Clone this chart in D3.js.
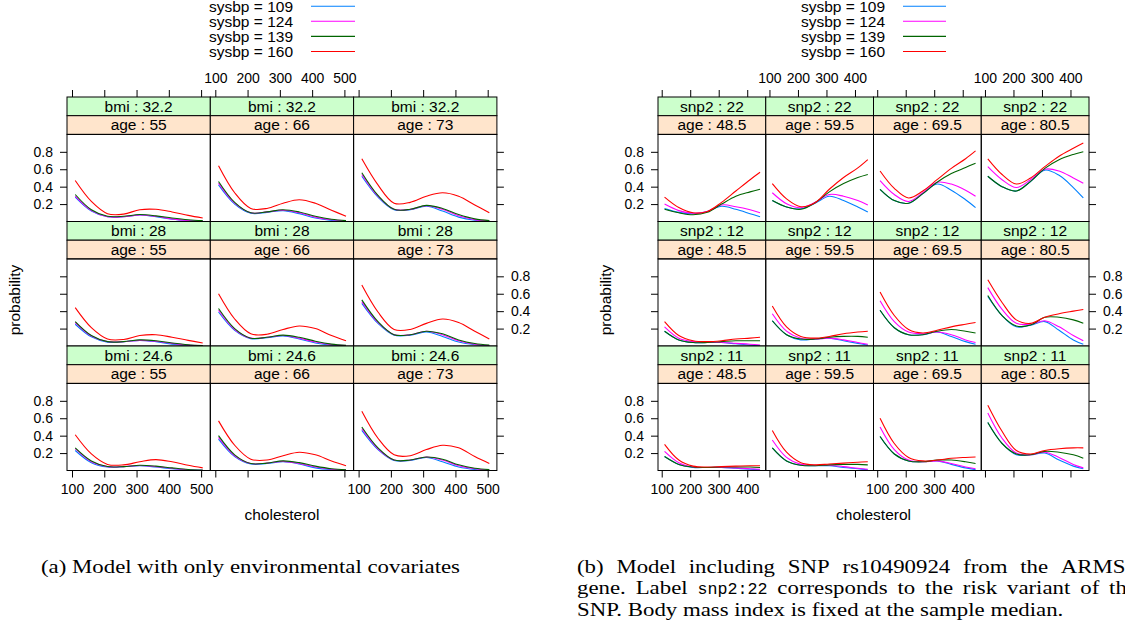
<!DOCTYPE html>
<html>
<head>
<meta charset="utf-8">
<script src="https://cdn.jsdelivr.net/npm/d3@7"></script>
<style>
  body { margin: 0; background: #fff; }
</style>
</head>
<body>
<div id="chart"></div>
<script>
// Levels and ticks
const sysbp = [109, 124, 139, 160];
const lineColors = ["#0080ff", "#ff00ff", "#006400", "#ff0000"];
const bmiA = [32.2, 28, 24.6];        // strip rows, top to bottom
const ageA = [55, 66, 73];
const snpB = [22, 12, 11];
const ageB = [48.5, 59.5, 69.5, 80.5];
const cholA = [110, 160, 210, 260, 310, 360, 410, 460, 505];
const cholB = [110, 160, 210, 260, 310, 360, 410, 445];
const xTicksA = [100, 200, 300, 400, 500];
const xTicksB = [100, 200, 300, 400];
const yTicks = [0.2, 0.4, 0.6, 0.8];

// (a) probabilities, each panel: sysbp 109, 124, 139, 160
const probA_bmi32 = [
  [[0.28,0.12,0.055,0.055,0.075,0.055,0.025,0.01,0.004],
   [0.29,0.125,0.055,0.055,0.075,0.06,0.03,0.012,0.005],
   [0.31,0.135,0.06,0.06,0.08,0.065,0.04,0.02,0.01],
   [0.47,0.23,0.09,0.085,0.135,0.14,0.11,0.07,0.04]],
  [[0.42,0.20,0.095,0.105,0.125,0.09,0.04,0.013,0.004],
   [0.44,0.21,0.10,0.11,0.13,0.10,0.05,0.02,0.007],
   [0.46,0.22,0.10,0.11,0.135,0.11,0.06,0.025,0.01],
   [0.64,0.33,0.15,0.15,0.21,0.25,0.21,0.13,0.06]],
  [[0.52,0.28,0.135,0.135,0.175,0.12,0.05,0.015,0.004],
   [0.54,0.29,0.14,0.14,0.18,0.14,0.065,0.022,0.007],
   [0.56,0.30,0.14,0.14,0.185,0.15,0.08,0.03,0.01],
   [0.72,0.42,0.21,0.22,0.29,0.33,0.29,0.19,0.10]]
];
const probA_bmi28 = [
  [[0.25,0.105,0.045,0.05,0.065,0.05,0.022,0.008,0.003],
   [0.27,0.115,0.05,0.05,0.065,0.055,0.03,0.01,0.004],
   [0.28,0.12,0.05,0.05,0.07,0.06,0.035,0.015,0.006],
   [0.44,0.21,0.08,0.075,0.12,0.13,0.10,0.065,0.035]],
  [[0.39,0.18,0.085,0.095,0.115,0.08,0.035,0.01,0.003],
   [0.41,0.19,0.09,0.10,0.12,0.09,0.045,0.016,0.005],
   [0.43,0.20,0.09,0.10,0.125,0.10,0.055,0.022,0.008],
   [0.60,0.31,0.14,0.135,0.19,0.23,0.20,0.12,0.06]],
  [[0.49,0.26,0.125,0.125,0.16,0.11,0.045,0.014,0.004],
   [0.51,0.27,0.13,0.13,0.17,0.13,0.06,0.02,0.006],
   [0.53,0.28,0.13,0.13,0.17,0.14,0.07,0.028,0.01],
   [0.70,0.39,0.19,0.19,0.26,0.31,0.27,0.17,0.08]]
];
const probA_bmi24 = [
  [[0.23,0.09,0.04,0.043,0.055,0.04,0.02,0.007,0.002],
   [0.25,0.10,0.045,0.045,0.058,0.045,0.025,0.009,0.003],
   [0.26,0.11,0.045,0.045,0.06,0.05,0.03,0.012,0.005],
   [0.41,0.19,0.07,0.065,0.10,0.125,0.10,0.06,0.03]],
  [[0.36,0.16,0.075,0.08,0.10,0.075,0.03,0.01,0.003],
   [0.38,0.17,0.08,0.085,0.105,0.08,0.04,0.014,0.005],
   [0.40,0.18,0.08,0.085,0.11,0.09,0.05,0.02,0.008],
   [0.57,0.29,0.13,0.12,0.17,0.21,0.18,0.11,0.055]],
  [[0.46,0.24,0.115,0.115,0.15,0.10,0.04,0.012,0.004],
   [0.48,0.25,0.12,0.12,0.155,0.12,0.055,0.02,0.006],
   [0.50,0.26,0.12,0.12,0.155,0.13,0.065,0.025,0.01],
   [0.68,0.37,0.18,0.17,0.24,0.29,0.26,0.16,0.08]]
];

// (b) probabilities, each panel: sysbp 109, 124, 139, 160
const probB_snp22 = [
  [[0.15,0.105,0.088,0.115,0.175,0.14,0.09,0.054],
   [0.20,0.125,0.095,0.115,0.19,0.17,0.135,0.10],
   [0.14,0.10,0.078,0.105,0.20,0.29,0.34,0.37],
   [0.28,0.16,0.10,0.115,0.22,0.35,0.48,0.565]],
  [[0.24,0.166,0.146,0.21,0.29,0.24,0.166,0.108],
   [0.33,0.204,0.158,0.22,0.31,0.29,0.24,0.19],
   [0.24,0.166,0.14,0.215,0.34,0.435,0.505,0.54],
   [0.435,0.26,0.17,0.215,0.37,0.505,0.615,0.71]],
  [[0.37,0.24,0.21,0.32,0.43,0.36,0.25,0.16],
   [0.47,0.31,0.23,0.33,0.45,0.43,0.36,0.29],
   [0.37,0.24,0.21,0.32,0.45,0.55,0.62,0.67],
   [0.58,0.38,0.27,0.35,0.48,0.61,0.72,0.81]],
  [[0.52,0.40,0.35,0.46,0.59,0.53,0.39,0.27],
   [0.63,0.48,0.39,0.48,0.60,0.58,0.50,0.44],
   [0.52,0.40,0.35,0.46,0.61,0.71,0.77,0.80],
   [0.72,0.54,0.43,0.50,0.63,0.75,0.84,0.90]]
];
const probB_snp12 = [
  [[0.17,0.07,0.04,0.04,0.04,0.025,0.01,0.005],
   [0.22,0.09,0.05,0.04,0.04,0.03,0.02,0.01],
   [0.17,0.07,0.04,0.04,0.05,0.06,0.06,0.06],
   [0.28,0.12,0.06,0.05,0.06,0.08,0.09,0.10]],
  [[0.29,0.13,0.07,0.08,0.09,0.06,0.03,0.01],
   [0.37,0.17,0.09,0.08,0.09,0.07,0.04,0.02],
   [0.29,0.13,0.08,0.08,0.10,0.11,0.11,0.10],
   [0.46,0.22,0.11,0.09,0.11,0.14,0.16,0.17]],
  [[0.41,0.21,0.13,0.13,0.16,0.11,0.05,0.02],
   [0.52,0.28,0.16,0.14,0.16,0.13,0.07,0.04],
   [0.41,0.21,0.13,0.13,0.17,0.19,0.17,0.15],
   [0.62,0.35,0.19,0.15,0.18,0.22,0.25,0.27]],
  [[0.57,0.35,0.22,0.24,0.28,0.18,0.07,0.02],
   [0.67,0.42,0.26,0.25,0.29,0.22,0.12,0.06],
   [0.58,0.35,0.23,0.24,0.33,0.33,0.30,0.26],
   [0.76,0.50,0.30,0.26,0.33,0.37,0.40,0.42]]
];
const probB_snp11 = [
  [[0.16,0.07,0.035,0.035,0.035,0.025,0.015,0.008],
   [0.22,0.09,0.04,0.035,0.035,0.03,0.02,0.015],
   [0.16,0.07,0.04,0.035,0.04,0.04,0.04,0.035],
   [0.30,0.12,0.05,0.04,0.045,0.05,0.055,0.055]],
  [[0.26,0.11,0.06,0.055,0.055,0.035,0.02,0.008],
   [0.35,0.15,0.07,0.06,0.06,0.045,0.025,0.015],
   [0.26,0.11,0.06,0.055,0.065,0.07,0.07,0.065],
   [0.46,0.21,0.09,0.065,0.075,0.085,0.095,0.10]],
  [[0.39,0.19,0.11,0.10,0.11,0.07,0.03,0.01],
   [0.50,0.24,0.12,0.10,0.11,0.08,0.04,0.02],
   [0.39,0.19,0.11,0.10,0.12,0.12,0.10,0.08],
   [0.60,0.31,0.15,0.11,0.12,0.14,0.15,0.155]],
  [[0.55,0.31,0.18,0.18,0.20,0.12,0.05,0.02],
   [0.66,0.37,0.20,0.18,0.21,0.15,0.07,0.03],
   [0.55,0.31,0.19,0.18,0.22,0.21,0.18,0.14],
   [0.75,0.45,0.23,0.19,0.23,0.25,0.26,0.26]]
];

const width = 1125;
const height = 630;
const sans = "'Liberation Sans', Arial, Helvetica, sans-serif";
const serif = "'Liberation Serif', 'Times New Roman', serif";

// Lattice layout shared by both figures
const top0 = 97;
const rowH = 124.5;
const stripH = 18.7;
const plotH = rowH - 2 * stripH;

const svg = d3.select("#chart").append("svg")
    .attr("width", width)
    .attr("height", height)
    .attr("viewBox", [0, 0, width, height])
    .style("font-family", sans);

svg.append("rect").attr("width", width).attr("height", height).attr("fill", "#fff");

function styleAxis(g) {
    g.select(".domain").remove();
    g.selectAll("line").attr("stroke", "#000");
    g.selectAll("text").attr("fill", "#000").attr("font-size", 14).attr("font-family", sans);
}

function drawLattice(o) {
    const g = svg.append("g");
    const nrow = o.rowVals.length;
    const ncol = o.colVals.length;
    const right = o.left + ncol * o.pw;
    const bottom = top0 + nrow * rowH;

    const x = d3.scaleLinear().domain(o.xDomain).range([0, o.pw]);
    const y = d3.scaleLinear().domain([0, 1]).range([plotH, 0]);
    const line = d3.line()
        .x((d, i) => x(o.chol[i]))
        .y(d => y(d))
        .curve(d3.curveCatmullRom.alpha(0.5));

    o.rowVals.forEach((rv, r) => {
        o.colVals.forEach((cv, c) => {
            const px = o.left + c * o.pw;
            const py = top0 + r * rowH;
            const p = g.append("g").attr("transform", `translate(${px},${py})`);

            // strips
            p.append("rect").attr("width", o.pw).attr("height", stripH)
                .attr("fill", "#ccffcc").attr("stroke", "#000").attr("stroke-width", 1);
            p.append("text").attr("x", o.pw / 2).attr("y", 14.7)
                .attr("text-anchor", "middle").attr("font-size", 15.5)
                .text(`${o.rowName} : ${rv}`);
            p.append("rect").attr("y", stripH).attr("width", o.pw).attr("height", stripH)
                .attr("fill", "#ffe5cc").attr("stroke", "#000").attr("stroke-width", 1);
            p.append("text").attr("x", o.pw / 2).attr("y", stripH + 14.7)
                .attr("text-anchor", "middle").attr("font-size", 15.5)
                .text(`${o.colName} : ${cv}`);

            // curves
            const plot = p.append("g").attr("transform", `translate(0,${2 * stripH})`);
            plot.selectAll("path.curve")
                .data(o.probs[r][c])
                .join("path")
                .attr("class", "curve")
                .attr("d", line)
                .attr("fill", "none")
                .attr("stroke", (d, i) => lineColors[i])
                .attr("stroke-width", 1.1);
            plot.append("rect").attr("width", o.pw).attr("height", plotH)
                .attr("fill", "none").attr("stroke", "#000").attr("stroke-width", 1);
        });

        // y axes, labels alternate left / right
        const py = top0 + r * rowH + 2 * stripH;
        const leftLab = r % 2 === 0;
        g.append("g")
            .attr("transform", `translate(${o.left},${py})`)
            .call(d3.axisLeft(y).tickValues(yTicks).tickSizeInner(7).tickSizeOuter(0).tickPadding(7)
                .tickFormat(leftLab ? d3.format(".1f") : () => ""))
            .call(styleAxis);
        g.append("g")
            .attr("transform", `translate(${right},${py})`)
            .call(d3.axisRight(y).tickValues(yTicks).tickSizeInner(7).tickSizeOuter(0).tickPadding(7)
                .tickFormat(!leftLab ? d3.format(".1f") : () => ""))
            .call(styleAxis);
    });

    // x axes, labels alternate bottom / top
    o.colVals.forEach((cv, c) => {
        const px = o.left + c * o.pw;
        const bottomLab = c % 2 === 0;
        g.append("g")
            .attr("transform", `translate(${px},${bottom})`)
            .call(d3.axisBottom(x).tickValues(o.xTicks).tickSizeInner(7).tickSizeOuter(0).tickPadding(7)
                .tickFormat(bottomLab ? d3.format("d") : () => ""))
            .call(styleAxis);
        g.append("g")
            .attr("transform", `translate(${px},${top0})`)
            .call(d3.axisTop(x).tickValues(o.xTicks).tickSizeInner(7).tickSizeOuter(0).tickPadding(7)
                .tickFormat(!bottomLab ? d3.format("d") : () => ""))
            .call(styleAxis);
    });

    // axis titles
    g.append("text")
        .attr("transform", `translate(${o.ylabX},300) rotate(-90)`)
        .attr("text-anchor", "middle").attr("font-size", 15.5)
        .text("probability");
    g.append("text")
        .attr("x", (o.left + right) / 2).attr("y", 520)
        .attr("text-anchor", "middle").attr("font-size", 15.5)
        .text("cholesterol");

    // legend
    const leg = g.append("g");
    sysbp.forEach((s, i) => {
        const ly = 6.2 + 15.1 * i;
        leg.append("text").attr("x", o.legText).attr("y", ly + 5.4)
            .attr("font-size", 15.5).text(`sysbp = ${s}`);
        leg.append("line").attr("x1", o.legLine[0]).attr("x2", o.legLine[1])
            .attr("y1", ly).attr("y2", ly)
            .attr("stroke", lineColors[i]).attr("stroke-width", 1.1);
    });
}

drawLattice({
    left: 67, pw: 143.3,
    rowName: "bmi", rowVals: bmiA,
    colName: "age", colVals: ageA,
    probs: [probA_bmi32, probA_bmi28, probA_bmi24],
    chol: cholA, xDomain: [84.5, 528.5], xTicks: xTicksA,
    ylabX: 19.5, legText: 209, legLine: [311, 355]
});

drawLattice({
    left: 658, pw: 107.75,
    rowName: "snp2", rowVals: snpB,
    colName: "age", colVals: ageB,
    probs: [probB_snp22, probB_snp12, probB_snp11],
    chol: cholB, xDomain: [87, 465], xTicks: xTicksB,
    ylabX: 611, legText: 801, legLine: [903, 946]
});

// Captions
function measure(str, family, size) {
    const t = svg.append("text").attr("font-family", family).attr("font-size", size).text(str);
    const w = t.node().getComputedTextLength();
    t.remove();
    return w;
}

const capSize = 18.5;
const capA = "(a) Model with only environmental covariates";
const stretch = 419 / measure(capA, serif, capSize);

svg.append("text")
    .attr("x", 41).attr("y", 572.5)
    .attr("font-family", serif).attr("font-size", capSize)
    .attr("textLength", 419).attr("lengthAdjust", "spacingAndGlyphs")
    .text(capA);

const capB = [
    { y: 572.5, justify: true, words: ["(b)", "Model", "including", "SNP", "rs10490924", "from", "the", "ARMS2"] },
    { y: 594, justify: true, words: ["gene.", "Label", "snp2:22", "corresponds", "to", "the", "risk", "variant", "of", "the"] },
    { y: 615.5, justify: false, words: ["SNP.", "Body", "mass", "index", "is", "fixed", "at", "the", "sample", "median."] }
];
const capBLeft = 577;
const capBWidth = 560;

capB.forEach(row => {
    const items = row.words.map(w => {
        const mono = w === "snp2:22";
        const fam = mono ? "'Liberation Mono', 'DejaVu Sans Mono', monospace" : serif;
        const size = mono ? 17 : capSize;
        const wd = measure(w, fam, size) * (mono ? 0.98 : stretch);
        return { w, fam, size, wd };
    });
    const total = d3.sum(items, d => d.wd);
    const space = measure("a b", serif, capSize) - measure("ab", serif, capSize);
    const gap = row.justify ? (capBWidth - total) / (items.length - 1) : space * stretch;
    let cx = capBLeft;
    items.forEach(it => {
        svg.append("text")
            .attr("x", cx).attr("y", row.y)
            .attr("font-family", it.fam).attr("font-size", it.size)
            .attr("textLength", it.wd).attr("lengthAdjust", "spacingAndGlyphs")
            .text(it.w);
        cx += it.wd + gap;
    });
});
</script>
</body>
</html>
